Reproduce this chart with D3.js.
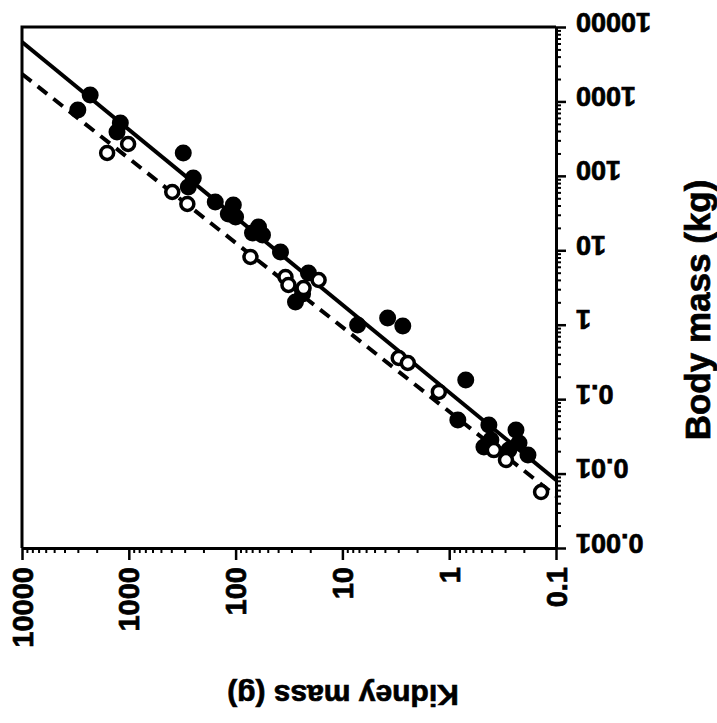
<!DOCTYPE html>
<html>
<head>
<meta charset="utf-8">
<script src="https://cdn.jsdelivr.net/npm/d3@7"></script>
<style>
  body { margin: 0; background: #fff; }
  text { font-family: "Liberation Sans", Arial, sans-serif; font-weight: bold; fill: #000; stroke: #000; stroke-width: 0.7px; }
</style>
</head>
<body>
<div id="chart"></div>
<script>
// kidney mass (g) vs body mass (kg)
const filledKidney = [3000, 2300, 1200, 1290, 309, 249, 277, 155, 105, 100, 117, 61, 69.5, 56, 38, 20.8, 27.5, 23.6, 7.2, 3.77, 2.72, 0.70, 0.83, 0.425, 0.473, 0.407, 0.237, 0.222, 0.183, 0.276];
const filledBody   = [767, 1220, 513, 388, 203, 93.6, 70.8, 44.5, 40.6, 28.0, 30.7, 20.6, 17.1, 16.0, 9.5, 4.95, 2.02, 2.59, 0.99, 1.23, 0.96, 0.181, 0.0525, 0.045, 0.0228, 0.0282, 0.0385, 0.0258, 0.0178, 0.0207];

const openKidney = [1595, 1015, 392, 283, 72.6, 34.1, 32, 23.1, 16.7, 2.97, 2.44, 1.25, 0.382, 0.294, 0.138];
const openBody   = [203, 268, 60.7, 41.9, 8.13, 4.38, 3.42, 3.11, 3.99, 0.357, 0.306, 0.125, 0.0207, 0.0152, 0.00565];

// fitted lines (end points)
const solidKidney = [10000, 0.1];
const solidBody = [6290, 0.0082];
const dashKidney = [10000, 0.1];
const dashBody = [2337, 0.0050];

const xTicks = [10000, 1000, 100, 10, 1, 0.1];
const xTickLabels = ["10000", "1000", "100", "10", "1", "0.1"];
const yTicks = [0.001, 0.01, 0.1, 1, 10, 100, 1000, 10000];
const yTickLabels = ["0.001", "0.01", "0.1", "1", "10", "100", "1000", "10000"];

const minorOf = (majors) => {
    const out = [];
    const lo = d3.min(majors), hi = d3.max(majors);
    for (let p = lo; p < hi * 0.999; p *= 10) {
        for (let m = 2; m <= 9; m++) out.push(p * m);
    }
    return out;
}

const svgWidth = 717, svgHeight = 723;
const plot = { left: 22, right: 556, top: 27, bottom: 548 };

const svg = d3.select("#chart").append("svg")
    .attr("width", svgWidth)
    .attr("height", svgHeight);

const xScale = d3.scaleLog().domain([10000, 0.1]).range([plot.left, plot.right]);
const yScale = d3.scaleLog().domain([0.001, 10000]).range([plot.bottom, plot.top]);

// frame top and left
svg.append("path")
    .attr("d", `M${plot.right},${plot.top}H${plot.left}V${plot.bottom}`)
    .attr("fill", "none")
    .attr("stroke", "#000")
    .attr("stroke-width", 3);

// bottom axis
svg.append("g")
    .attr("transform", "translate(0," + plot.bottom + ")")
    .call(d3.axisBottom(xScale).tickValues(minorOf(xTicks)).tickSize(5).tickFormat("").tickSizeOuter(0))
    .call(g => {
        g.select(".domain").remove();
        g.selectAll("line").attr("stroke-width", 2);
    });

svg.append("g")
    .attr("transform", "translate(0," + plot.bottom + ")")
    .call(d3.axisBottom(xScale).tickValues(xTicks).tickSize(12).tickSizeOuter(0)
        .tickFormat((d, i) => xTickLabels[i]))
    .call(g => {
        g.select(".domain").attr("stroke-width", 3);
        g.selectAll("line").attr("stroke-width", 2.5);
        g.selectAll("text")
            .attr("y", null)
            .attr("dy", null)
            .attr("transform", "translate(0,19) rotate(-90)")
            .attr("text-anchor", "end")
            .attr("dominant-baseline", "central")
            .style("font-size", "29px")
            .style("font-family", "Liberation Sans, Arial, sans-serif");
    });

// right axis
svg.append("g")
    .attr("transform", "translate(" + plot.right + ",0)")
    .call(d3.axisRight(yScale).tickValues(minorOf(yTicks)).tickSize(5).tickFormat("").tickSizeOuter(0))
    .call(g => {
        g.select(".domain").remove();
        g.selectAll("line").attr("stroke-width", 2);
    });

svg.append("g")
    .attr("transform", "translate(" + plot.right + ",0)")
    .call(d3.axisRight(yScale).tickValues(yTicks).tickSize(10).tickSizeOuter(0)
        .tickFormat((d, i) => yTickLabels[i]))
    .call(g => {
        g.select(".domain").attr("stroke-width", 3);
        g.selectAll("line").attr("stroke-width", 2.5);
        g.selectAll("text")
            .attr("x", null)
            .attr("dy", null)
            .attr("transform", "translate(20,-6) rotate(180)")
            .attr("text-anchor", "end")
            .attr("dominant-baseline", "central")
            .style("font-size", "27px")
            .style("font-family", "Liberation Sans, Arial, sans-serif");
    });

// fit lines
const line = d3.line()
    .x(d => xScale(d[0]))
    .y(d => yScale(d[1]));

svg.append("path")
    .datum(d3.zip(dashKidney, dashBody))
    .attr("fill", "none")
    .attr("stroke", "#000")
    .attr("stroke-width", 4)
    .attr("stroke-dasharray", "12,8")
    .attr("d", line);

svg.append("path")
    .datum(d3.zip(solidKidney, solidBody))
    .attr("fill", "none")
    .attr("stroke", "#000")
    .attr("stroke-width", 4)
    .attr("d", line);

// points
svg.append("g")
    .selectAll("circle")
    .data(d3.zip(filledKidney, filledBody))
    .enter()
    .append("circle")
    .attr("cx", d => xScale(d[0]))
    .attr("cy", d => yScale(d[1]))
    .attr("r", 8.5)
    .attr("fill", "#000");

svg.append("g")
    .selectAll("circle")
    .data(d3.zip(openKidney, openBody))
    .enter()
    .append("circle")
    .attr("cx", d => xScale(d[0]))
    .attr("cy", d => yScale(d[1]))
    .attr("r", 6.5)
    .attr("fill", "#fff")
    .attr("stroke", "#000")
    .attr("stroke-width", 3.5);

// axis titles
svg.append("text")
    .attr("transform", "translate(697,310) rotate(-90)")
    .attr("text-anchor", "middle")
    .attr("dominant-baseline", "central")
    .style("font-size", "35px")
    .text("Body mass (kg)");

svg.append("text")
    .attr("transform", "translate(343,695) rotate(180)")
    .attr("text-anchor", "middle")
    .attr("dominant-baseline", "central")
    .style("font-size", "30px")
    .text("Kidney mass (g)");
</script>
</body>
</html>
